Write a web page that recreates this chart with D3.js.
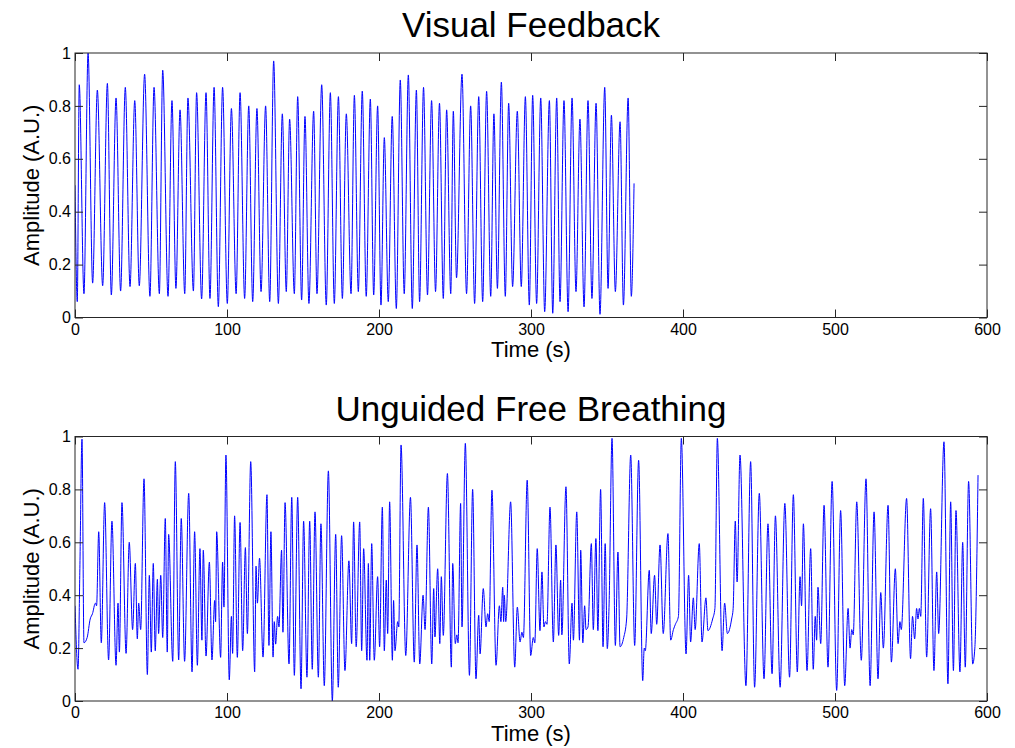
<!DOCTYPE html>
<html>
<head>
    <meta charset="utf-8" />
    <title>Visual Feedback vs Unguided Free Breathing</title>
    <style>
        body {
            margin: 0;
            background: #fff;
        }
        svg text {
            font-family: "Liberation Sans", Arial, sans-serif;
            fill: #000;
        }
        .axis text {
            font-size: 16px;
        }
        .axis line, .axis path {
            stroke: #262626;
        }
        .frame {
            fill: none;
            stroke: #262626;
            stroke-width: 1;
        }
        .trace {
            fill: none;
            stroke: #0000ff;
            stroke-width: 1;
        }
    </style>
    <script src="https://d3js.org/d3.v7.min.js"></script>
</head>
<body>
<script>

// tick labels
let xTicks = [0, 100, 200, 300, 400, 500, 600];
let yTicks = [0, 0.2, 0.4, 0.6, 0.8, 1];

// titles
let panelTitles = ["Visual Feedback", "Unguided Free Breathing"];

// visual feedback: [time (s), amplitude] at turning points
let visualPts = [
    [0, 0.5], [1.5, 0.06], [2.8, 0.88], [5.9, 0.09], [8.6, 1.0], [11.6, 0.13],
    [14.7, 0.86], [18.2, 0.12], [21.3, 0.885], [23.9, 0.085], [27, 0.83], [30, 0.10],
    [33.1, 0.87], [36.2, 0.117], [39.3, 0.82], [42.3, 0.12], [45.8, 0.92], [49.3, 0.08],
    [52, 0.87], [55.5, 0.09], [57.7, 0.935], [61.2, 0.08], [63.8, 0.82], [66.4, 0.11],
    [69.1, 0.785], [72.2, 0.09], [74.3, 0.83], [77.9, 0.10], [80, 0.85], [83.3, 0.07],
    [86.2, 0.85], [88.8, 0.072], [91.5, 0.87], [94.3, 0.041], [97.1, 0.87], [100.2, 0.053],
    [102.9, 0.79], [106, 0.09], [108.6, 0.85], [111.6, 0.072], [114.3, 0.80], [116.9, 0.06],
    [119.7, 0.79], [122.4, 0.098], [125.4, 0.80], [128.1, 0.06], [130.7, 0.97], [133.8, 0.053],
    [136.4, 0.77], [139, 0.098], [141.2, 0.75], [144.3, 0.09], [146.5, 0.835], [149.1, 0.066],
    [151.3, 0.76], [153.9, 0.053], [157, 0.78], [159.2, 0.09], [162.3, 0.88], [165.3, 0.047],
    [168, 0.85], [170.6, 0.053], [173.3, 0.835], [175.9, 0.072], [178.5, 0.77], [181.6, 0.09],
    [183.8, 0.84], [186.4, 0.098], [189, 0.856], [191.6, 0.08], [194.3, 0.826], [196.5, 0.085],
    [199.1, 0.80], [201.3, 0.047], [203.5, 0.68], [206.1, 0.06], [208.7, 0.76], [211.4, 0.034],
    [214, 0.898], [216.6, 0.09], [219.3, 0.917], [221.9, 0.034], [224.6, 0.86], [226.7, 0.06],
    [229.3, 0.87], [231.9, 0.085], [234.6, 0.82], [237.2, 0.098], [239.8, 0.81], [242.3, 0.072],
    [244.5, 0.785], [247.2, 0.09], [248.9, 0.78], [251, 0.15], [254.6, 0.92], [257.6, 0.09],
    [260.3, 0.80], [262.9, 0.053], [265.6, 0.835], [268.2, 0.06], [270.8, 0.855], [273.5, 0.08],
    [275.6, 0.77], [277.9, 0.11], [280.5, 0.89], [283.1, 0.08], [285.3, 0.81], [287.9, 0.117],
    [291, 0.78], [293.6, 0.117], [296.3, 0.835], [298.9, 0.047], [301.1, 0.84], [303.7, 0.053],
    [306.4, 0.83], [309, 0.022], [312.1, 0.82], [314.3, 0.016], [316.9, 0.83], [319.1, 0.06],
    [321.7, 0.82], [324.4, 0.022], [327, 0.83], [329.6, 0.098], [332.2, 0.75], [334.9, 0.04],
    [337.5, 0.82], [340.1, 0.072], [342.8, 0.81], [345.4, 0.012], [348.5, 0.87], [350.7, 0.11],
    [352.9, 0.765], [355.5, 0.098], [358.6, 0.74], [360.8, 0.047], [363.9, 0.83], [366, 0.08],
    [367.8, 0.507]
];

// unguided free breathing: [time (s), amplitude]
let freePts = [
    [0, 0.36], [2, 0.12], [3.2, 0.5], [4.6, 0.99], [5.9, 0.22], [8, 0.24], [10, 0.31],
    [11.5, 0.33], [13.4, 0.37], [14.2, 0.36], [15.6, 0.64], [17.3, 0.22], [19.5, 0.75],
    [22.1, 0.155], [24.3, 0.68], [27, 0.135], [28.3, 0.37], [29.2, 0.185], [30.9, 0.75],
    [33.6, 0.18], [35.7, 0.60], [37.9, 0.27], [39.7, 0.52], [41, 0.235], [41.9, 0.37],
    [43.2, 0.27], [45.4, 0.84], [47.6, 0.10], [48.9, 0.475], [50.2, 0.185], [51.5, 0.52],
    [52.8, 0.19], [54.2, 0.46], [55, 0.255], [56.4, 0.475], [57.7, 0.24], [59.4, 0.69],
    [60.7, 0.185], [61.6, 0.63], [64.3, 0.15], [66, 0.905], [68.2, 0.155], [69.9, 0.69],
    [72.1, 0.15], [74.8, 0.785], [77, 0.11], [78.7, 0.64], [80.5, 0.135], [82.2, 0.576],
    [83.5, 0.23], [84.4, 0.57], [86.2, 0.17], [88.4, 0.525], [90.1, 0.155], [91.9, 0.38],
    [92.5, 0.3], [93.2, 0.64], [95.8, 0.165], [97.1, 0.525], [98, 0.355], [99.3, 0.93],
    [101.5, 0.08], [102.9, 0.32], [103.7, 0.18], [105, 0.70], [106.8, 0.165], [108.6, 0.675],
    [110.3, 0.19], [112.1, 0.58], [113.4, 0.255], [115.6, 0.905], [118.2, 0.11], [119.1, 0.51],
    [120, 0.37], [121.4, 0.54], [123.7, 0.166], [126.3, 0.78], [127.6, 0.21], [128.9, 0.64],
    [130.3, 0.166], [131.1, 0.30], [132, 0.215], [133.3, 0.32], [134.2, 0.28], [135.9, 0.57],
    [136.8, 0.26], [138.2, 0.75], [140.8, 0.14], [142.6, 0.77], [144.3, 0.097], [146.5, 0.77],
    [148.7, 0.046], [150.4, 0.68], [152.6, 0.09], [154.4, 0.68], [156.1, 0.12], [157.9, 0.715],
    [160.1, 0.09], [161.8, 0.67], [164, 0.058], [166.7, 0.87], [169.3, 0.0], [171.5, 0.63],
    [173.2, 0.052], [175.4, 0.625], [177.6, 0.115], [180.2, 0.53], [182, 0.217], [183.3, 0.677],
    [185, 0.205], [187.3, 0.677], [188.6, 0.19], [189.9, 0.576], [192.1, 0.154], [193, 0.52],
    [193.9, 0.154], [195.2, 0.595], [196.9, 0.154], [199.1, 0.47], [200.4, 0.205], [202.2, 0.733],
    [203.5, 0.19], [204.8, 0.457], [205.7, 0.255], [207, 0.753], [208.8, 0.154], [209.6, 0.38],
    [210.5, 0.19], [212.3, 0.30], [213, 0.28], [214.5, 0.968], [217.6, 0.172], [220.7, 0.77],
    [223.2, 0.147], [225, 0.59], [226.8, 0.14], [229, 0.40], [230.3, 0.27], [232.5, 0.733],
    [234.7, 0.14], [236, 0.425], [236.8, 0.242], [238.6, 0.50], [240, 0.217], [241, 0.47],
    [242.3, 0.248], [245, 0.86], [247.6, 0.128], [248.5, 0.52], [250.2, 0.217], [251.2, 0.25],
    [252, 0.22], [253.7, 0.747], [254.6, 0.28], [256.8, 0.974], [259.5, 0.097], [261.6, 0.80],
    [263.8, 0.084], [265.6, 0.324], [266.5, 0.178], [268.6, 0.425], [270.4, 0.28], [271.5, 0.33],
    [272.5, 0.30], [274.3, 0.797], [277, 0.135], [279.2, 0.36], [280.2, 0.3], [281.4, 0.43],
    [282, 0.3], [282.4, 0.40], [283.4, 0.3], [286.6, 0.753], [289.3, 0.128], [291, 0.355],
    [292.8, 0.223], [294, 0.26], [295, 0.24], [297.5, 0.835], [299.8, 0.172], [301.5, 0.24],
    [302.5, 0.22], [304.1, 0.576], [305.9, 0.266], [307.2, 0.488], [308.5, 0.28], [309.5, 0.30],
    [310.5, 0.29], [312.5, 0.733], [314.7, 0.223], [316.4, 0.59], [318.2, 0.248], [319.5, 0.457],
    [320.3, 0.25], [323, 0.81], [325.2, 0.14], [327, 0.37], [327.9, 0.23], [330.1, 0.715],
    [331.9, 0.23], [332.7, 0.57], [334.1, 0.22], [335.3, 0.36], [336.2, 0.27], [337.5, 0.28],
    [339.7, 0.595], [341, 0.27], [342.7, 0.614], [344, 0.266], [345.8, 0.80], [347.4, 0.205],
    [348.8, 0.595], [350.2, 0.198], [351.4, 0.37], [353.3, 0.993], [355.5, 0.21], [357.2, 0.563],
    [358.6, 0.205], [361, 0.24], [362.9, 0.31], [365.6, 0.93], [368.2, 0.21], [370.8, 0.91],
    [373.5, 0.077], [374.5, 0.2], [375.2, 0.19], [377.8, 0.494], [379.1, 0.255], [381.3, 0.475],
    [382.7, 0.29], [384.9, 0.59], [387, 0.255], [390.1, 0.633], [391.9, 0.23], [393.7, 0.27],
    [395, 0.29], [397, 0.32], [398.9, 0.993], [402, 0.178], [403.7, 0.475], [405, 0.223],
    [406.8, 0.39], [408, 0.27], [410.7, 0.595], [412.5, 0.223], [415.1, 0.39], [416.4, 0.266],
    [419.5, 0.31], [421, 0.35], [422.6, 0.993], [425.7, 0.19], [427.4, 0.37], [429.2, 0.255],
    [432, 0.31], [433, 0.35], [434.4, 0.68], [435.6, 0.45], [437.5, 0.93], [441.4, 0.058],
    [444.5, 0.905], [447.1, 0.052], [450.2, 0.785], [453.3, 0.084], [455.9, 0.67], [458.6, 0.103],
    [460.8, 0.70], [463.9, 0.052], [467, 0.747], [470.1, 0.09], [472.6, 0.78], [475.2, 0.11],
    [477, 0.47], [478, 0.36], [479.2, 0.67], [481.6, 0.115], [484, 0.576], [485.7, 0.12],
    [487, 0.32], [487.9, 0.23], [488.8, 0.43], [490.6, 0.217], [492.8, 0.74], [495.4, 0.128],
    [498.1, 0.83], [501.1, 0.04], [503.7, 0.72], [506.4, 0.058], [508.6, 0.35], [509.9, 0.20],
    [511, 0.27], [512, 0.25], [514.3, 0.753], [517.3, 0.154], [520.4, 0.84], [523.1, 0.058],
    [525.7, 0.715], [528.3, 0.084], [530.1, 0.41], [531.8, 0.20], [534.9, 0.74], [537.1, 0.147],
    [539.7, 0.50], [541.5, 0.217], [542.7, 0.30], [543.6, 0.27], [547.1, 0.766], [549.7, 0.16],
    [551, 0.32], [552.4, 0.235], [553.7, 0.35], [554.6, 0.31], [555.5, 0.35], [556.4, 0.32],
    [558.1, 0.766], [560.3, 0.166], [562.9, 0.727], [565.1, 0.115], [566.9, 0.488], [568.2, 0.255],
    [571.7, 0.98], [574.3, 0.065], [576.1, 0.753], [577.9, 0.115], [579.6, 0.72], [582.2, 0.11],
    [584, 0.60], [585.7, 0.128], [587.9, 0.83], [590.6, 0.14], [592, 0.2], [594.1, 0.854]
];

let series = [visualPts, freePts];

// layout
let W = 1015, H = 748;
let left = 75, plotW = 912, plotH = 264.5;
let panelTops = [53, 436.5];
let tickLen = 8;

let svg = d3.select("body")
    .append("svg")
    .attr("width", W)
    .attr("height", H);

let x = d3.scaleLinear().domain([0, 600]).range([0, plotW]);
let y = d3.scaleLinear().domain([0, 1]).range([plotH, 0]);

let line = d3.line()
    .x(d => x(d[0]))
    .y(d => y(d[1]))
    .curve(d3.curveMonotoneX);

panelTops.forEach((top, i) => {
    let g = svg.append("g")
        .attr("transform", "translate(" + left + "," + top + ")");

    g.append("clipPath")
        .attr("id", "clip" + i)
        .append("rect")
        .attr("width", plotW)
        .attr("height", plotH);

    g.append("path")
        .datum(series[i])
        .attr("class", "trace")
        .attr("clip-path", "url(#clip" + i + ")")
        .attr("d", line);

    // bottom axis with labels, ticks pointing in
    g.append("g")
        .attr("class", "axis")
        .attr("transform", "translate(0," + plotH + ")")
        .call(d3.axisBottom(x).tickValues(xTicks).tickSize(-tickLen).tickPadding(6).tickFormat(d3.format("~g")))
        .call(s => s.select(".domain").remove());

    // left axis
    g.append("g")
        .attr("class", "axis")
        .call(d3.axisLeft(y).tickValues(yTicks).tickSize(-tickLen).tickPadding(4).tickFormat(d3.format("~g")))
        .call(s => s.select(".domain").remove());

    // mirrored ticks top and right
    g.append("g")
        .attr("class", "axis")
        .call(d3.axisTop(x).tickValues(xTicks).tickSize(-tickLen).tickFormat(""))
        .call(s => s.select(".domain").remove());

    g.append("g")
        .attr("class", "axis")
        .attr("transform", "translate(" + plotW + ",0)")
        .call(d3.axisRight(y).tickValues(yTicks).tickSize(-tickLen).tickFormat(""))
        .call(s => s.select(".domain").remove());

    g.append("rect")
        .attr("class", "frame")
        .attr("width", plotW)
        .attr("height", plotH);

    // titles and labels
    g.append("text")
        .attr("x", plotW / 2)
        .attr("y", -16)
        .attr("text-anchor", "middle")
        .style("font-size", "35px")
        .text(panelTitles[i]);

    g.append("text")
        .attr("x", plotW / 2)
        .attr("y", plotH + 39.5)
        .attr("text-anchor", "middle")
        .style("font-size", "22px")
        .text("Time (s)");

    g.append("text")
        .attr("transform", "translate(" + (39 - left) + "," + (plotH / 2) + ") rotate(-90)")
        .attr("text-anchor", "middle")
        .style("font-size", "22px")
        .text("Amplitude (A.U.)");
});

</script>
</body>
</html>
